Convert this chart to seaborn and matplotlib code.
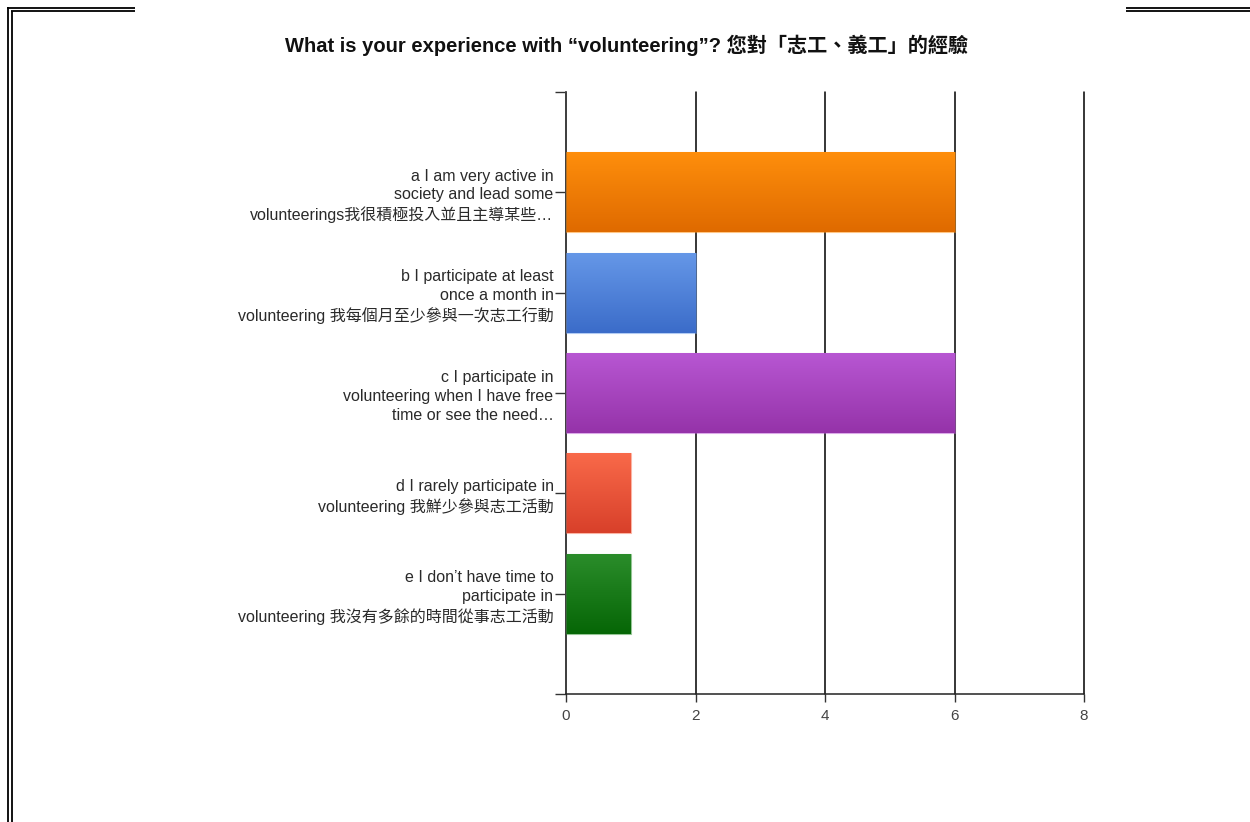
import numpy as np
import pandas as pd
import matplotlib
matplotlib.use("Agg")
import matplotlib.pyplot as plt
from matplotlib.lines import Line2D
from matplotlib.colors import LinearSegmentedColormap
import seaborn as sns

# Survey responses
categories = [
    "a I am very active in\nsociety and lead some\nvolunteerings我很積極投入並且主導某些…",
    "b I participate at least\nonce a month in\nvolunteering 我每個月至少參與一次志工行動",
    "c I participate in\nvolunteering when I have free\ntime or see the need…",
    "d I rarely participate in\nvolunteering 我鮮少參與志工活動",
    "e I don’t have time to\nparticipate in\nvolunteering 我沒有多餘的時間從事志工活動",
]
counts = [6, 2, 6, 1, 1]
x_ticks = [0, 2, 4, 6, 8]
title = "What is your experience with “volunteering”? 您對「志工、義工」的經驗"

# Top / bottom shades for each bar's vertical gradient
top_colors = ["#FF8F0C", "#6698E8", "#B857D3", "#F96A4A", "#2B8D2B"]
bottom_colors = ["#DF6A00", "#3B6CC9", "#9533A9", "#D8402A", "#066606"]

sns.set_theme(style="white")
fonts = ["Liberation Sans", "Noto Sans CJK TC", "DejaVu Sans"]
plt.rcParams["font.family"] = fonts

df = pd.DataFrame({"category": categories, "count": counts})

fig = plt.figure(figsize=(12.5, 8.22), dpi=100)
ax = fig.add_axes([0.4528, 0.1557, 0.8672 - 0.4528, 0.8881 - 0.1557])

sns.barplot(data=df, x="count", y="category", ax=ax, width=0.8,
            color="white", saturation=1)

# Replace flat fills with vertical gradients
grad = np.linspace(0, 1, 256).reshape(-1, 1)
for patch, c_top, c_bot in zip(ax.patches, top_colors, bottom_colors):
    bb = patch.get_bbox()
    cmap = LinearSegmentedColormap.from_list("g", [c_top, c_bot])
    img = ax.imshow(grad, cmap=cmap, aspect="auto",
                    extent=[bb.x0, bb.x1, bb.y1, bb.y0], zorder=2,
                    interpolation="bilinear")
    img.set_clip_path(patch)
    patch.set_facecolor("none")
    patch.set_edgecolor(c_top)
    patch.set_alpha(0.5)
    patch.set_linewidth(0.8)
    patch.set_zorder(3)

ax.set_xlim(0, 8)
ax.set_ylim(5, -1)
ax.set_xticks(x_ticks)
ax.set_xticklabels([str(t) for t in x_ticks])
ax.set_xlabel("")
ax.set_ylabel("")

# Vertical gridlines
ax.grid(axis="x", color="#000000", linewidth=1.1)
ax.grid(axis="y", visible=False)
for gl in ax.get_xgridlines():
    gl.set_clip_on(False)
ax.set_axisbelow(True)

for side in ["top", "right"]:
    ax.spines[side].set_visible(False)
ax.spines["left"].set_color("#444444")
ax.spines["bottom"].set_color("#222222")
ax.spines["left"].set_linewidth(1.1)
ax.spines["bottom"].set_linewidth(1.1)

ax.tick_params(axis="y", which="both", left=True, length=8, width=1.0,
               color="#333333", pad=1, labelsize=11.5, labelcolor="#2a2a2a")
ax.tick_params(axis="x", bottom=True, length=6, width=1.0, color="#333333",
               pad=5, labelsize=11, labelcolor="#444444")
ax.set_yticks([-1, 5], minor=True)
for lbl in ax.get_yticklabels():
    lbl.set_linespacing(1.32)
    lbl.set_family(fonts)
for lbl in ax.get_xticklabels():
    lbl.set_family(fonts)

fig.text(0.5012, 0.945, title, ha="center", va="center", fontsize=14.5,
         fontweight="bold", color="#111111", family=fonts)

# Double-rule page frame
def frame_line(x0, y0, x1, y1):
    fig.add_artist(Line2D([x0 / 1250, x1 / 1250], [1 - y0 / 822, 1 - y1 / 822],
                          color="black", linewidth=1.3, transform=fig.transFigure,
                          solid_capstyle="butt"))

frame_line(7, 8, 135, 8)
frame_line(10.5, 11.5, 135, 11.5)
frame_line(8, 7, 8, 822)
frame_line(11.5, 11.5, 11.5, 822)
frame_line(1126, 8, 1250, 8)
frame_line(1126, 11.5, 1250, 11.5)

fig.savefig("out.png", dpi=100, facecolor="white")
